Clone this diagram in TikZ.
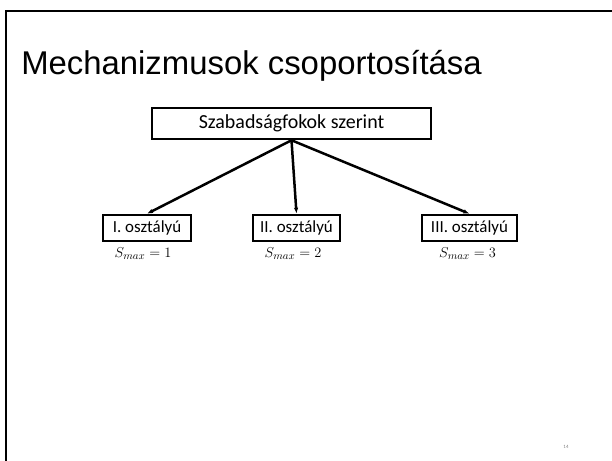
\documentclass[tikz,border=0pt]{standalone}
\usepackage{fontspec}
\setmainfont{Carlito}
\newfontfamily\cimfont{Liberation Sans}
\usetikzlibrary{arrows.meta}
\newlength{\du}
\setlength{\du}{1bp}

\begin{document}
\begin{tikzpicture}[line width=0.6\du,
  doboz/.style={draw,inner sep=0pt,minimum height=26\du,font=\fontsize{17}{20}\selectfont},
  nyil/.style={-{Latex[length=6pt,width=4.5pt]}},
  kepl/.style={font=\fontsize{15}{18}\selectfont}]
\pgftransformxscale{1.000000}
\pgftransformyscale{-1.000000}
\useasboundingbox (0\du,0\du) rectangle (612\du,461\du);
\definecolor{dialinecolor}{rgb}{0.000000, 0.000000, 0.000000}
\pgfsetstrokecolor{dialinecolor}
% keret
{
\pgfsetlinewidth{2.500000\du}
\pgfsetmiterjoin
\draw (6\du,461\du)--(6\du,11\du)--(612\du,11\du);
}
% setfont left to latex
\node[anchor=base west,inner sep=0pt] (cim) at (20\du,75\du){\cimfont\fontsize{33}{40}\selectfont Mechanizmusok csoportosítása};
% setfont left to latex
\node[doboz,minimum width=279\du,minimum height=31\du,font=\fontsize{20}{24}\selectfont] (fok) at (291.5\du,123.5\du){Szabadságfokok szerint};
\node[doboz,minimum width=88\du] (elso) at (147\du,228\du){I. osztályú};
\node[doboz,minimum width=87\du] (masodik) at (296.5\du,228\du){II. osztályú};
\node[doboz,minimum width=95\du] (harmadik) at (469.5\du,228\du){III. osztályú};
% setfont left to latex
\node[kepl] (s1) at (143\du,254\du){$S_{max}=1$};
\node[kepl] (s2) at (293\du,254\du){$S_{max}=2$};
\node[kepl] (s3) at (467.5\du,254\du){$S_{max}=3$};
% nyilak
\draw[nyil] (fok.south)--(elso.north);
\draw[nyil] (fok.south)--(masodik.north);
\draw[nyil] (fok.south)--(harmadik.north);
% setfont left to latex
\node[text=gray,font=\fontsize{5}{6}\selectfont] (oldal) at (566\du,447\du){14};
\end{tikzpicture}
\end{document}
